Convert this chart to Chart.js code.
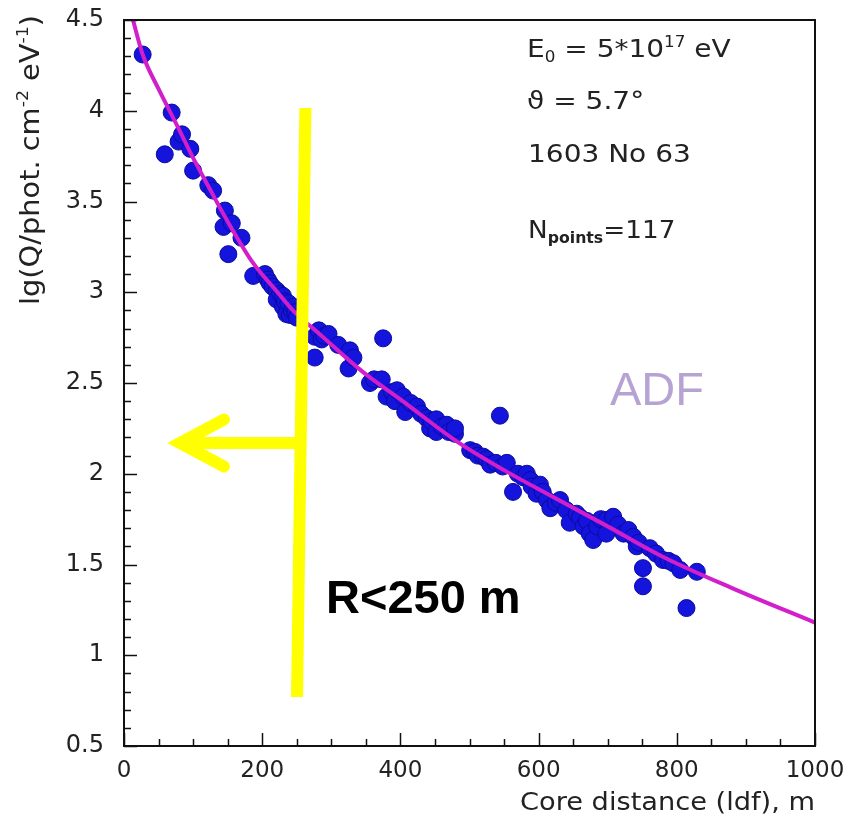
<!DOCTYPE html>
<html>
<head>
<meta charset="utf-8">
<script src="https://cdn.jsdelivr.net/npm/chart.js@4.4.0/dist/chart.umd.min.js"></script>
<style>
  html, body { margin: 0; padding: 0; background: #fff; }
  canvas { display: block; }
</style>
</head>
<body>
<canvas id="ldf" width="852" height="818"></canvas>
<script>
// Measured Cherenkov light density: core distance (m) and lg Q
const distances = [
  27, 59, 69, 79, 84, 96, 100, 122, 129, 144,
  146, 151, 156, 170, 187, 204, 208, 211, 215, 221,
  221, 226, 230, 230, 233, 235, 238, 240, 243, 245,
  248, 250, 276, 276, 282, 286, 290, 296, 310, 325,
  327, 332, 356, 362, 373, 375, 380, 388, 392, 395,
  404, 407, 415, 424, 430, 438, 443, 445, 452, 452,
  460, 467, 470, 479, 479, 501, 508, 512, 520, 525,
  530, 538, 544, 548, 554, 563, 570, 578, 583, 588,
  590, 597, 602, 606, 612, 617, 625, 631, 640, 645,
  655, 660, 665, 670, 674, 679, 685, 690, 698, 698,
  708, 715, 723, 730, 737, 742, 745, 751, 751, 761,
  770, 780, 788, 795, 805, 814, 829
];
const lgQ = [
  4.31, 3.76, 3.99, 3.83, 3.87, 3.79, 3.67, 3.59, 3.56, 3.36,
  3.45, 3.21, 3.38, 3.30, 3.09, 3.10, 3.07, 3.05, 3.03, 3.01,
  2.96, 2.99, 2.98, 2.92, 2.95, 2.88, 2.94, 2.875, 2.90, 2.92,
  2.89, 2.86, 2.755, 2.64, 2.79, 2.74, 2.76, 2.77, 2.71, 2.58,
  2.68, 2.64, 2.50, 2.52, 2.52, 2.746, 2.425, 2.45, 2.40, 2.46,
  2.425, 2.34, 2.39, 2.37, 2.33, 2.306, 2.25, 2.29, 2.30, 2.23,
  2.26, 2.27, 2.23, 2.22, 2.25, 2.13, 2.12, 2.10, 2.094, 2.08,
  2.05, 2.06, 2.32, 2.04, 2.06, 1.90, 2.00, 1.98, 2.00, 1.965,
  1.93, 1.89, 1.94, 1.90, 1.855, 1.81, 1.84, 1.855, 1.80, 1.73,
  1.78, 1.76, 1.71, 1.74, 1.67, 1.635, 1.71, 1.75, 1.745, 1.67,
  1.763, 1.72, 1.67, 1.69, 1.653, 1.60, 1.62, 1.48, 1.38, 1.59,
  1.56, 1.525, 1.52, 1.507, 1.47, 1.26, 1.46
];

// ADF fit curve, sampled along the core distance
const fitDistances = [13, 27, 50, 78, 100, 124, 150, 187, 220, 247, 280, 346, 400, 481, 550, 617, 700, 776, 880, 1000];
const fitLgQ = [4.50, 4.31, 4.12, 3.91, 3.74, 3.57, 3.39, 3.16, 3.01, 2.89, 2.78, 2.56, 2.41, 2.18, 2.02, 1.88, 1.71, 1.55, 1.37, 1.18];

// axis ticks
const xTickValues = [0, 200, 400, 600, 800, 1000];
const yTickValues = [0.5, 1, 1.5, 2, 2.5, 3, 3.5, 4, 4.5];

// R < 250 m cut marker (vertical bar and arrow), in data units
const cutBar = [[262.5, 4.015], [250.4, 0.77]];
const cutArrow = { from: [250, 2.169], tip: [68, 2.169], armX: 144.7, armUp: 2.299, armDown: 2.040 };

const rootFont = '"DejaVu Sans", sans-serif';

// text with sub/superscript runs, stretched horizontally by sx
function drawRich(ctx, x, y, parts, size, sx) {
  sx = sx || 1;
  ctx.save();
  ctx.translate(x, y);
  ctx.scale(sx, 1);
  let cx = 0;
  parts.forEach(p => {
    let s = size, dy = 0;
    if (p.sup) { s = size * 0.6; dy = -size * 0.42; }
    if (p.sub) { s = size * 0.6; dy = size * 0.18; }
    ctx.font = (p.bold ? 'bold ' : '') + s + 'px ' + rootFont;
    ctx.fillText(p.t, cx, dy);
    cx += ctx.measureText(p.t).width;
  });
  ctx.restore();
  return cx * sx;
}

function measureRich(ctx, parts, size) {
  let w = 0;
  parts.forEach(p => {
    const s = (p.sup || p.sub) ? size * 0.6 : size;
    ctx.font = (p.bold ? 'bold ' : '') + s + 'px ' + rootFont;
    w += ctx.measureText(p.t).width;
  });
  return w;
}

const framePlugin = {
  id: 'framePlugin',
  afterDatasetsDraw(chart) {
    const ctx = chart.ctx;
    const xs = chart.scales.x, ys = chart.scales.y;
    const a = chart.chartArea;
    ctx.save();

    // cut marker in yellow
    ctx.strokeStyle = '#ffff00';
    ctx.lineWidth = 12;
    ctx.lineCap = 'butt';
    ctx.beginPath();
    ctx.moveTo(xs.getPixelForValue(cutBar[0][0]), ys.getPixelForValue(cutBar[0][1]));
    ctx.lineTo(xs.getPixelForValue(cutBar[1][0]), ys.getPixelForValue(cutBar[1][1]));
    ctx.stroke();

    const tipX = xs.getPixelForValue(cutArrow.tip[0]) + 9, tipY = ys.getPixelForValue(cutArrow.tip[1]);
    ctx.beginPath();
    ctx.moveTo(xs.getPixelForValue(cutArrow.from[0]), ys.getPixelForValue(cutArrow.from[1]));
    ctx.lineTo(tipX, tipY);
    ctx.stroke();
    ctx.lineCap = 'round';
    ctx.lineJoin = 'miter';
    ctx.beginPath();
    ctx.moveTo(xs.getPixelForValue(cutArrow.armX), ys.getPixelForValue(cutArrow.armUp));
    ctx.lineTo(tipX, tipY);
    ctx.lineTo(xs.getPixelForValue(cutArrow.armX), ys.getPixelForValue(cutArrow.armDown));
    ctx.stroke();

    // frame and inward ticks
    ctx.strokeStyle = '#111';
    ctx.lineWidth = 2;
    ctx.lineCap = 'butt';
    ctx.strokeRect(a.left, a.top, a.right - a.left, a.bottom - a.top);
    ctx.lineWidth = 1.5;
    ctx.beginPath();
    for (let v = 0; v <= 1000; v += 50) {
      const px = Math.round(xs.getPixelForValue(v)) + 0.5;
      const len = v % 200 === 0 ? 13 : 7;
      ctx.moveTo(px, a.bottom);
      ctx.lineTo(px, a.bottom - len);
    }
    for (let i = 5; i <= 45; i++) {
      const py = Math.round(ys.getPixelForValue(i / 10)) + 0.5;
      const len = i % 5 === 0 ? 13 : 7;
      ctx.moveTo(a.left, py);
      ctx.lineTo(a.left + len, py);
    }
    ctx.stroke();

    // axis titles
    ctx.fillStyle = '#222';
    ctx.textBaseline = 'alphabetic';
    ctx.textAlign = 'left';
    const xTitle = [{ t: 'Core distance (ldf), m' }];
    const xw = measureRich(ctx, xTitle, 24);
    drawRich(ctx, a.right - 295, 810, xTitle, 24, 295 / xw);

    const yTitle = [{ t: 'lg(Q/phot. cm' }, { t: '-2', sup: true }, { t: ' eV' }, { t: '-1', sup: true }, { t: ')' }];
    const yw = measureRich(ctx, yTitle, 27);
    ctx.save();
    ctx.translate(39, 305);
    ctx.rotate(-Math.PI / 2);
    drawRich(ctx, 0, 0, yTitle, 27, 290 / yw);
    ctx.restore();

    // event info
    drawRich(ctx, 527, 57, [{ t: 'E' }, { t: '0', sub: true }, { t: ' = 5*10' }, { t: '17', sup: true }, { t: ' eV' }], 25, 1.12);
    drawRich(ctx, 527, 109, [{ t: 'ϑ = 5.7°' }], 25, 1.12);
    drawRich(ctx, 528, 162, [{ t: '1603 No 63' }], 25, 1.12);
    drawRich(ctx, 528, 238, [{ t: 'N' }, { t: 'points', sub: true, bold: true }, { t: '=117' }], 25, 1.05);

    // labels
    ctx.fillStyle = '#b7a3d3';
    ctx.font = '47px "Liberation Sans", Arial, sans-serif';
    ctx.fillText('ADF', 610, 405);
    ctx.fillStyle = '#000';
    ctx.font = 'bold 47px "Liberation Sans", Arial, sans-serif';
    ctx.fillText('R<250 m', 326, 613);

    ctx.restore();
  }
};

new Chart(document.getElementById('ldf').getContext('2d'), {
  type: 'scatter',
  data: {
    datasets: [
      {
        type: 'line',
        label: 'ADF',
        data: fitDistances.map((d, i) => ({ x: d, y: fitLgQ[i] })),
        borderColor: '#d21ecb',
        borderWidth: 4,
        pointRadius: 0,
        fill: false,
        cubicInterpolationMode: 'monotone',
        order: 0
      },
      {
        label: 'points',
        data: distances.map((d, i) => ({ x: d, y: lgQ[i] })),
        backgroundColor: '#1414dc',
        borderColor: '#0a0aa0',
        borderWidth: 1,
        pointRadius: 8.5,
        order: 1
      }
    ]
  },
  options: {
    responsive: false,
    animation: false,
    layout: { padding: { top: 20, right: 37, left: 0, bottom: 0 } },
    plugins: { legend: { display: false }, tooltip: { enabled: false } },
    scales: {
      x: {
        type: 'linear',
        min: 0,
        max: 1000,
        afterBuildTicks: s => { s.ticks = xTickValues.map(v => ({ value: v })); },
        afterFit: s => { s.height = 72; s.paddingLeft = 0; s.paddingRight = 0; },
        grid: { display: false, drawTicks: false },
        border: { display: false },
        ticks: { color: '#222', padding: 11, font: { family: rootFont, size: 23 }, maxRotation: 0, callback: v => String(v) }
      },
      y: {
        type: 'linear',
        min: 0.5,
        max: 4.5,
        afterBuildTicks: s => { s.ticks = yTickValues.map(v => ({ value: v })); },
        afterFit: s => { s.width = 124; s.paddingTop = 0; s.paddingBottom = 0; },
        grid: { display: false, drawTicks: false },
        border: { display: false },
        ticks: { color: '#222', padding: 20, font: { family: rootFont, size: 24 }, callback: v => String(v) }
      }
    }
  },
  plugins: [framePlugin]
});
</script>
</body>
</html>
